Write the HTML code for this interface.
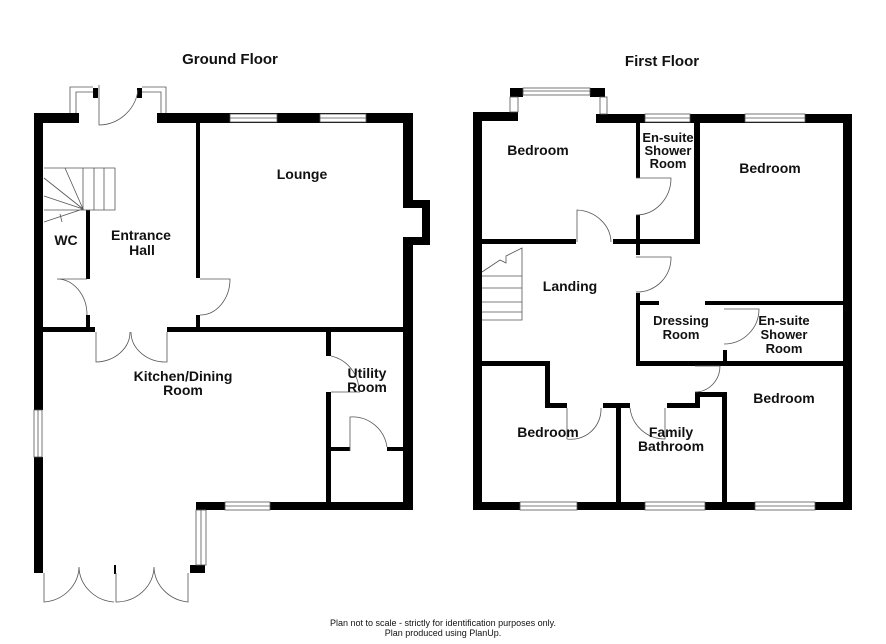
<!DOCTYPE html>
<html><head><style>
body{margin:0;background:#fff;width:886px;height:644px;overflow:hidden}
svg{display:block}
text{font-family:"Liberation Sans",Arial,sans-serif;font-weight:bold;fill:#111}
</style></head><body>
<svg width="886" height="644" viewBox="0 0 886 644" xmlns="http://www.w3.org/2000/svg">
<g fill="#000">
<rect x="34" y="113" width="45" height="10"/>
<rect x="157" y="113" width="256" height="10"/>
<rect x="34" y="113" width="9" height="297"/>
<rect x="34" y="457" width="9" height="116"/>
<rect x="403" y="113" width="10" height="87"/>
<rect x="403" y="200" width="27" height="8"/>
<rect x="422" y="200" width="8" height="45"/>
<rect x="403" y="237" width="27" height="8"/>
<rect x="403" y="237" width="10" height="273"/>
<rect x="196" y="123" width="4" height="155"/>
<rect x="196" y="315" width="4" height="15"/>
<rect x="86" y="210" width="4" height="69"/>
<rect x="86" y="315" width="4" height="15"/>
<rect x="34" y="327" width="61" height="5"/>
<rect x="167" y="327" width="246" height="5"/>
<rect x="326" y="332" width="5" height="24"/>
<rect x="326" y="392" width="5" height="110"/>
<rect x="331" y="447" width="19" height="4"/>
<rect x="387" y="447" width="16" height="4"/>
<rect x="196" y="502" width="217" height="8"/>
<rect x="190" y="565" width="15" height="8"/>
<rect x="114" y="565" width="2" height="9"/>
<rect x="93" y="88" width="5" height="10"/>
<rect x="137" y="88" width="5" height="10"/>
<rect x="473" y="112" width="45" height="9"/>
<rect x="510" y="88" width="13" height="9"/>
<rect x="590" y="88" width="15" height="9"/>
<rect x="596" y="114" width="256" height="9"/>
<rect x="473" y="112" width="9" height="398"/>
<rect x="843" y="114" width="9" height="396"/>
<rect x="473" y="502" width="379" height="8"/>
<rect x="636" y="123" width="4" height="55"/>
<rect x="636" y="215" width="4" height="40"/>
<rect x="694" y="123" width="6" height="121"/>
<rect x="482" y="239" width="94" height="5"/>
<rect x="613" y="239" width="87" height="5"/>
<rect x="636" y="293" width="4" height="72"/>
<rect x="640" y="301" width="19" height="4"/>
<rect x="705" y="301" width="138" height="4"/>
<rect x="723" y="350" width="4" height="15"/>
<rect x="636" y="361" width="207" height="5"/>
<rect x="482" y="361" width="66" height="5"/>
<rect x="545" y="361" width="5" height="47"/>
<rect x="545" y="403" width="22" height="5"/>
<rect x="603" y="403" width="27" height="5"/>
<rect x="616" y="403" width="5" height="99"/>
<rect x="667" y="403" width="30" height="5"/>
<rect x="695" y="392" width="5" height="16"/>
<rect x="695" y="392" width="32" height="5"/>
<rect x="722" y="392" width="5" height="110"/>
</g>
<g fill="#fff" stroke="#555" stroke-width="0.8">
<rect x="230" y="114" width="47" height="8"/><line x1="230" y1="118" x2="277" y2="118"/>
<rect x="320" y="114" width="46" height="8"/><line x1="320" y1="118" x2="366" y2="118"/>
<rect x="34" y="410" width="8" height="47"/><line x1="38" y1="410" x2="38" y2="457"/>
<rect x="225" y="502" width="45" height="8"/><line x1="225" y1="506" x2="270" y2="506"/>
<rect x="196" y="510" width="10" height="55"/><line x1="201" y1="510" x2="201" y2="565"/>
<rect x="523" y="88" width="67" height="7"/><line x1="523" y1="91" x2="590" y2="91"/>
<rect x="510" y="97" width="8" height="15"/><rect x="600" y="97" width="7" height="17"/>
<rect x="645" y="114" width="45" height="8"/><line x1="645" y1="118" x2="690" y2="118"/>
<rect x="745" y="114" width="60" height="8"/><line x1="745" y1="118" x2="805" y2="118"/>
<rect x="520" y="502" width="57" height="8"/><line x1="520" y1="506" x2="577" y2="506"/>
<rect x="645" y="502" width="60" height="8"/><line x1="645" y1="506" x2="705" y2="506"/>
<rect x="755" y="502" width="60" height="8"/><line x1="755" y1="506" x2="815" y2="506"/>
<path d="M70,113 V87 H93 M76,113 V92 H93 M142,87 H166 V113 M142,92 H161 V113" fill="none"/>
</g>
<g fill="none" stroke="#555" stroke-width="0.8">
<path d="M99,85 V125 A40,40 0 0 0 138,90"/>
<path d="M87,279 H57 A30,36 0 0 1 87,315"/>
<path d="M200,279 H230 A30,36 0 0 1 200,315"/>
<path d="M96,332 V362 A35,30 0 0 0 130,332 M167,332 V362 A35,30 0 0 1 131,332"/>
<path d="M331,356 A36,36 0 0 1 359,391 M331,392 H360"/>
<path d="M350,451 V417 A35,35 0 0 1 387,447"/>
<path d="M44,573 V602 A38,36 0 0 0 79,567 A38,36 0 0 0 114,602 M116,573 V602 A38,36 0 0 0 154,567 A38,36 0 0 0 188,602 V573"/>
<path d="M44,168 H115 V210 H44 M83,168 V210 M94,168 V210 M104,168 V210 M65,168 L83,209 L44,178 M44,196 L83,209 L44,222 M60,214 L62,222"/>
<path d="M636,178 H671 A35,37 0 0 1 636,215"/>
<path d="M577,242 V210 A36,33 0 0 1 611,242"/>
<path d="M636,257 H671 A34,34 0 0 1 636,292"/>
<path d="M724,309 H759 A35,35 0 0 1 724,344"/>
<path d="M695,366 H720 A25,26 0 0 1 695,392"/>
<path d="M567,408 V439 A30,30 0 0 0 601,408"/>
<path d="M630,408 A35,35 0 0 0 665,439 V408"/>
<path d="M482,320 H522 V248 L506,256 V263 L500,260 L482,272 M482,302 H522 M482,288 H522 M482,276 H522 M482,312 H522"/>
</g>
<g font-size="14" text-anchor="middle">
<text x="230" y="64" font-size="15">Ground Floor</text>
<text x="662" y="66" font-size="15">First Floor</text>
<text x="302" y="179">Lounge</text>
<text x="141" y="240">Entrance</text><text x="142" y="255">Hall</text>
<text x="66" y="245">WC</text>
<text x="183" y="381">Kitchen/Dining</text><text x="183" y="395">Room</text>
<text x="367" y="378">Utility</text><text x="367" y="392">Room</text>
<text x="538" y="155">Bedroom</text>
<text x="668" y="142" font-size="13">En-suite</text><text x="668" y="155" font-size="13">Shower</text><text x="668" y="168" font-size="13">Room</text>
<text x="770" y="173">Bedroom</text>
<text x="570" y="291">Landing</text>
<text x="681" y="325" font-size="13">Dressing</text><text x="681" y="339" font-size="13">Room</text>
<text x="784" y="325" font-size="13">En-suite</text><text x="784" y="339" font-size="13">Shower</text><text x="784" y="353" font-size="13">Room</text>
<text x="784" y="403">Bedroom</text>
<text x="548" y="437">Bedroom</text>
<text x="671" y="437">Family</text><text x="671" y="451">Bathroom</text>
</g>
<g font-size="9" text-anchor="middle">
<text x="443" y="626" style="font-weight:normal">Plan not to scale - strictly for identification purposes only.</text>
<text x="443" y="636" style="font-weight:normal">Plan produced using PlanUp.</text>
</g>
</svg>
</body></html>
